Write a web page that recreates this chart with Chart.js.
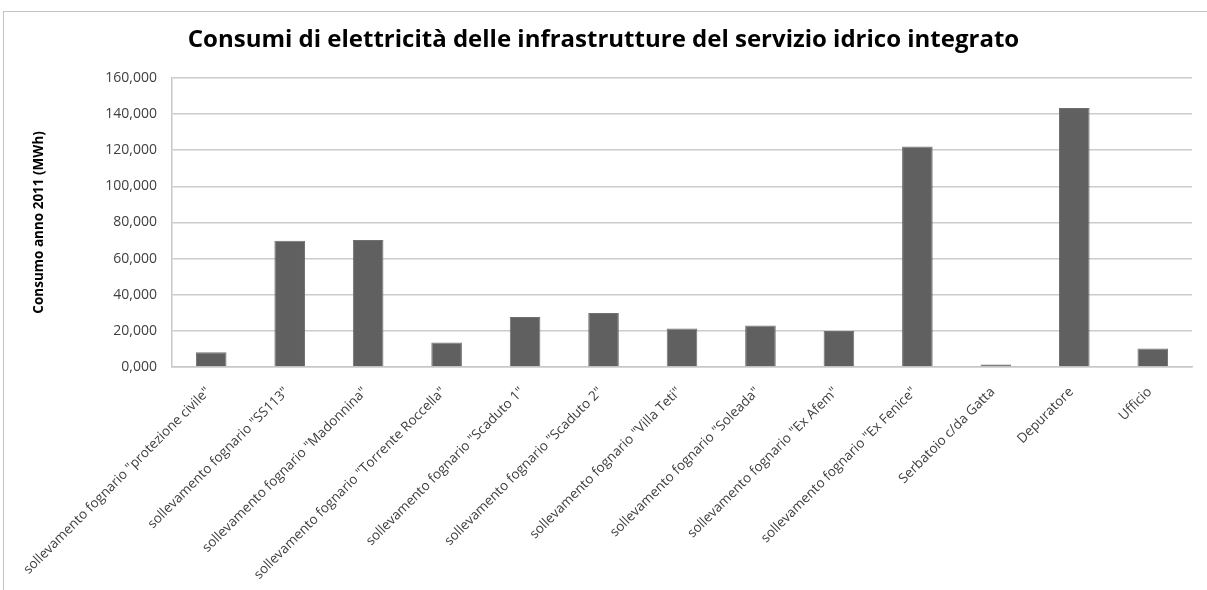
<!DOCTYPE html>
<html>
<head>
<meta charset="utf-8">
<script src="https://cdn.jsdelivr.net/npm/chart.js@4/dist/chart.umd.min.js"></script>
<style>
    body { margin: 0; background: #fff; overflow: hidden; }
    #wrap { position: relative; width: 1207px; height: 590px; overflow: hidden; }
    #frame { position: absolute; left: 3px; top: 11px; width: 1300px; height: 700px; border: 1px solid #c3c3c3; pointer-events: none; }
</style>
</head>
<body>
<div id="wrap">
    <canvas id="myChart" width="1207" height="590"></canvas>
    <div id="frame"></div>
</div>
<script>

const categories = [
    'sollevamento fognario "protezione civile"',
    'sollevamento fognario "SS113"',
    'sollevamento fognario "Madonnina"',
    'sollevamento fognario "Torrente Roccella"',
    'sollevamento fognario "Scaduto 1"',
    'sollevamento fognario "Scaduto 2"',
    'sollevamento fognario "Villa Teti"',
    'sollevamento fognario "Soleada"',
    'sollevamento fognario "Ex Afem"',
    'sollevamento fognario "Ex Fenice"',
    'Serbatoio c/da Gatta',
    'Depuratore',
    'Ufficio'
];

// MWh per impianto, anno 2011
const consumi = [8100, 69800, 70300, 13600, 27700, 29900, 21300, 22900, 19900, 122000, 1400, 143300, 10300];

const yMax = 160000;
const yStep = 20000;

const formatTick = (v) => v === 0 ? '0,000' : v.toLocaleString('en-US');

const main = () => {

    Chart.defaults.font.family = "'Open Sans', sans-serif";
    Chart.defaults.color = '#404040';

    const data = {
        labels: categories,
        datasets: [{
            label: 'Consumo',
            backgroundColor: '#606060',
            borderColor: '#707070',
            borderWidth: 1,
            barPercentage: 0.39,
            categoryPercentage: 1,
            data: consumi,
        }]
    };

    const config = {
        type: 'bar',
        data: data,
        options: {
            responsive: false,
            animation: false,
            layout: { padding: { top: 0, right: 15, bottom: 0, left: 15 } },
            plugins: {
                legend: { display: false },
                tooltip: { enabled: false },
                title: {
                    display: true,
                    text: 'Consumi di elettricità delle infrastrutture del servizio idrico integrato',
                    color: '#000',
                    font: { size: 24, weight: 'bold' },
                    padding: { top: 26, bottom: 23 }
                }
            },
            scales: {
                x: {
                    grid: { display: false },
                    border: { color: '#c8c8c8', width: 1.5 },
                    ticks: {
                        autoSkip: false,
                        minRotation: 45,
                        maxRotation: 45,
                        padding: 9,
                        labelOffset: -3,
                        font: { size: 13.5 }
                    },
                    afterFit: (scale) => { scale.height = 223; }
                },
                y: {
                    min: 0,
                    max: yMax,
                    grid: { color: '#cccccc', lineWidth: 1.5, drawTicks: false },
                    border: { display: true, color: '#c8c8c8', width: 1.5 },
                    ticks: {
                        stepSize: yStep,
                        padding: 15,
                        font: { size: 14 },
                        callback: formatTick
                    },
                    title: {
                        display: true,
                        text: 'Consumo anno 2011 (MWh)',
                        color: '#000',
                        font: { size: 13.5, weight: 'bold' },
                        padding: { top: 16, bottom: 0 }
                    },
                    afterFit: (scale) => { scale.width = 157; }
                }
            }
        }
    };

    const myChart = new Chart(
        document.getElementById('myChart'),
        config
    );
}

window.onload = () => main()
</script>
</body>
</html>
